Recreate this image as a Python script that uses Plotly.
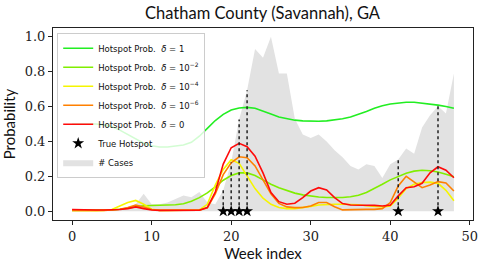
import plotly.graph_objects as go

weeks = list(range(49))

cases = [0.0, 0.0, 0.0, 0.0, 0.0, 0.005, 0.01, 0.02, 0.04, 0.10,
         0.04, 0.04, 0.05, 0.07, 0.09, 0.08, 0.11, 0.05, 0.04, 0.12,
         0.28, 0.526, 0.693, 0.93, 0.88, 1.0, 0.79, 0.79, 0.53, 0.44,
         0.42, 0.44, 0.40, 0.35, 0.31, 0.26, 0.24, 0.27, 0.26, 0.19,
         0.27, 0.297, 0.36, 0.33, 0.48, 0.55, 0.602, 0.56, 0.79]

prob_d1 = [0.50, 0.50, 0.50, 0.50, 0.495, 0.485, 0.465, 0.44, 0.415, 0.39,
           0.375, 0.368, 0.368, 0.372, 0.38, 0.395, 0.43, 0.475, 0.52, 0.555,
           0.58, 0.592, 0.595, 0.59, 0.575, 0.557, 0.54, 0.53, 0.522, 0.518,
           0.516, 0.516, 0.518, 0.522, 0.53, 0.54, 0.555, 0.572, 0.59, 0.605,
           0.615, 0.622, 0.625, 0.625, 0.62, 0.615, 0.608, 0.60, 0.59]

prob_d1e2 = [0.005, 0.005, 0.005, 0.005, 0.006, 0.008, 0.012, 0.02, 0.028, 0.032,
             0.033, 0.033, 0.034, 0.037, 0.043, 0.057, 0.078, 0.105, 0.14, 0.178,
             0.205, 0.22, 0.22, 0.205, 0.18, 0.155, 0.135, 0.118, 0.104, 0.094,
             0.087, 0.082, 0.079, 0.078, 0.079, 0.083, 0.092, 0.108, 0.13, 0.155,
             0.18, 0.20, 0.218, 0.23, 0.235, 0.232, 0.225, 0.212, 0.198]

prob_d1e4 = [0.005, 0.003, 0.003, 0.003, 0.005, 0.01, 0.03, 0.05, 0.062, 0.04,
             0.012, 0.005, 0.005, 0.005, 0.005, 0.005, 0.008, 0.04, 0.15, 0.24,
             0.295, 0.275, 0.20, 0.13, 0.075, 0.04, 0.022, 0.015, 0.015, 0.02,
             0.028, 0.036, 0.04, 0.04, 0.04, 0.04, 0.037, 0.032, 0.027, 0.025,
             0.03, 0.075, 0.13, 0.155, 0.165, 0.167, 0.16, 0.12, 0.06]

prob_d1e6 = [0.005, 0.004, 0.004, 0.004, 0.005, 0.007, 0.012, 0.022, 0.035, 0.025,
             0.01, 0.005, 0.005, 0.005, 0.005, 0.005, 0.006, 0.02, 0.10, 0.21,
             0.278, 0.312, 0.307, 0.26, 0.18, 0.10, 0.045, 0.025, 0.021, 0.022,
             0.03, 0.05, 0.05, 0.026, 0.008, 0.01, 0.011, 0.011, 0.011, 0.015,
             0.05, 0.145, 0.20, 0.17, 0.135, 0.15, 0.17, 0.162, 0.116]

prob_d0 = [0.01, 0.008, 0.007, 0.007, 0.007, 0.008, 0.01, 0.015, 0.025, 0.015,
           0.007, 0.005, 0.005, 0.005, 0.005, 0.005, 0.006, 0.021, 0.11, 0.27,
           0.364, 0.389, 0.37, 0.316, 0.22, 0.107, 0.055, 0.04, 0.046, 0.078,
           0.116, 0.135, 0.122, 0.078, 0.044, 0.036, 0.036, 0.036, 0.034, 0.03,
           0.035, 0.088, 0.135, 0.14, 0.16, 0.22, 0.255, 0.235, 0.192]

hotspot_weeks = [19, 20, 21, 22, 41, 46]

x_ticks = [0, 10, 20, 30, 40, 50]
y_ticks = [0, 0.2, 0.4, 0.6, 0.8, 1.0]
y_tick_labels = ["0.0", "0.2", "0.4", "0.6", "0.8", "1.0"]

series = [
    ("Hotspot Prob.  <i>δ</i> = 1", prob_d1, "#22ee22"),
    ("Hotspot Prob.  <i>δ</i> = 10<sup>−2</sup>", prob_d1e2, "#80ee00"),
    ("Hotspot Prob.  <i>δ</i> = 10<sup>−4</sup>", prob_d1e4, "#f5f500"),
    ("Hotspot Prob.  <i>δ</i> = 10<sup>−6</sup>", prob_d1e6, "#ff8000"),
    ("Hotspot Prob.  <i>δ</i> = 0", prob_d0, "#ff0a0a"),
]

fig = go.Figure()

fig.add_trace(go.Scatter(
    x=weeks, y=cases, mode="lines", fill="tozeroy",
    line=dict(width=0, color="#e2e2e2"), fillcolor="#e2e2e2",
    name="# Cases", legendrank=7))

for i, (name, vals, col) in enumerate(series):
    fig.add_trace(go.Scatter(
        x=weeks, y=vals, mode="lines", name=name,
        line=dict(color=col, width=1.6), legendrank=i + 1))

vx, vy = [], []
for w in hotspot_weeks:
    vx += [w, w, None]
    vy += [0, cases[w], None]
fig.add_trace(go.Scatter(
    x=vx, y=vy, mode="lines", showlegend=False,
    line=dict(color="#222222", width=1.5, dash="dot")))

fig.add_trace(go.Scatter(
    x=hotspot_weeks, y=[0] * len(hotspot_weeks), mode="markers",
    marker=dict(symbol="star", size=9, color="black"),
    name="True Hotspot", legendrank=6))

tick_font = dict(family="DejaVu Serif", size=13, color="#222")
fig.update_layout(
    width=483, height=267,
    margin=dict(l=52.5, r=10.3, t=28, b=47, autoexpand=False),
    paper_bgcolor="white", plot_bgcolor="white",
    title=dict(text="Chatham County (Savannah), GA", x=0.5435, xanchor="center",
               y=0.952, yanchor="middle",
               font=dict(family="Lato", size=16.5, color="#111")),
    font=dict(family="Lato", color="#111"),
    showlegend=True,
    legend=dict(x=0.01, y=0.975, xanchor="left", yanchor="top",
                bgcolor="rgba(255,255,255,0.8)", bordercolor="#cccccc",
                borderwidth=1, font=dict(family="DejaVu Sans", size=8.5, color="#111"),
                tracegroupgap=0),
    xaxis=dict(range=[-2.4, 50.4], tickmode="array", tickvals=x_ticks,
               ticks="outside", ticklen=4, tickcolor="#222", showgrid=False,
               zeroline=False, showline=True, linecolor="#222", linewidth=1, mirror=True,
               tickfont=tick_font, automargin=False,
               title=dict(text="Week index", font=dict(family="Lato", size=15), standoff=2)),
    yaxis=dict(range=[-0.05, 1.05], tickmode="array",
               tickvals=y_ticks, ticktext=y_tick_labels,
               ticks="outside", ticklen=4, tickcolor="#222", showgrid=False,
               zeroline=False, showline=True, linecolor="#222", linewidth=1, mirror=True,
               tickfont=tick_font, automargin=False,
               title=dict(text="Probability", font=dict(family="Lato", size=15))),
)

fig.write_html("out.html", config={"displayModeBar": False},
               post_script="document.body.style.margin='0';document.body.style.padding='0';")
